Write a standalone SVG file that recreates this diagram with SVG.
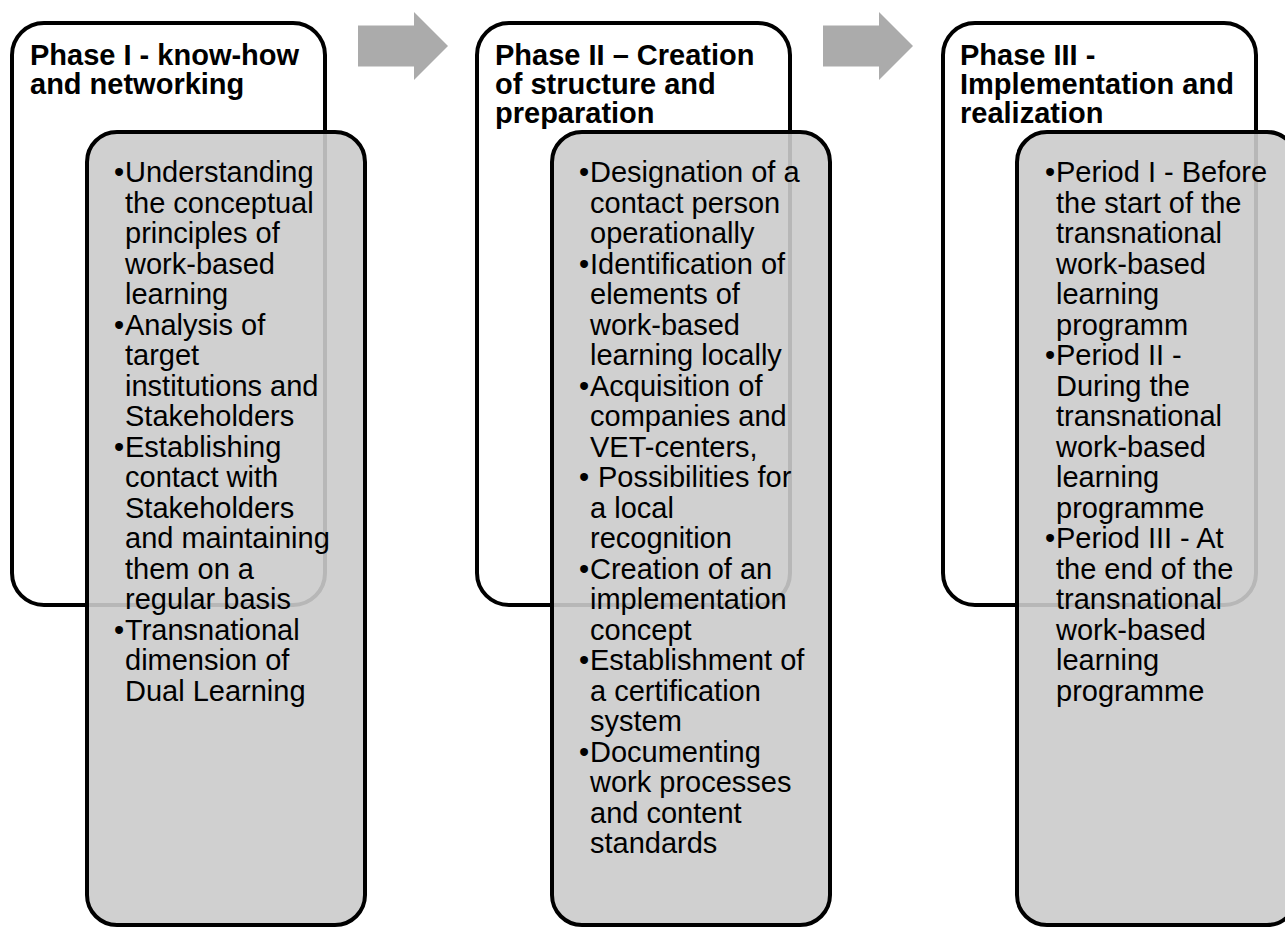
<svg xmlns="http://www.w3.org/2000/svg" width="1285" height="927" viewBox="0 0 1285 927">
<style>
.outer{fill:#ffffff;stroke:#000000;stroke-width:4}
.inner{fill:#cbcbcb;fill-opacity:0.9;stroke:#000000;stroke-width:4}
.arrow{fill:#ababab}
.title{font-family:"Liberation Sans",Arial,sans-serif;font-size:29px;font-weight:bold;fill:#000000}
.body{font-family:"Liberation Sans",Arial,sans-serif;font-size:29px;fill:#000000}
</style>
<rect width="1285" height="927" fill="#ffffff"/>
<g id="connectors">
<polygon class="arrow" points="358,25.5 414,25.5 414,12 448,46 414,80 414,66.5 358,66.5"/>
<polygon class="arrow" points="823,25.5 879,25.5 879,12 913,46 879,80 879,66.5 823,66.5"/>
</g>
<g id="phase1">
<rect class="outer" x="12" y="23" width="313" height="582" rx="32"/>
<rect class="inner" x="87" y="132" width="278" height="793" rx="30"/>
<text class="title"><tspan x="30" y="65">Phase I - know-how</tspan><tspan x="30" y="94">and networking</tspan></text>
<text class="body">
<tspan x="114" y="182">•</tspan><tspan x="125" y="182">Understanding</tspan>
<tspan x="125" y="212.5">the conceptual</tspan>
<tspan x="125" y="243">principles of</tspan>
<tspan x="125" y="273.5">work-based</tspan>
<tspan x="125" y="304">learning</tspan>
<tspan x="114" y="334.5">•</tspan><tspan x="125" y="334.5">Analysis of</tspan>
<tspan x="125" y="365">target</tspan>
<tspan x="125" y="395.5">institutions and</tspan>
<tspan x="125" y="426">Stakeholders</tspan>
<tspan x="114" y="456.5">•</tspan><tspan x="125" y="456.5">Establishing</tspan>
<tspan x="125" y="487">contact with</tspan>
<tspan x="125" y="517.5">Stakeholders</tspan>
<tspan x="125" y="548">and maintaining</tspan>
<tspan x="125" y="578.5">them on a</tspan>
<tspan x="125" y="609">regular basis</tspan>
<tspan x="114" y="639.5">•</tspan><tspan x="125" y="639.5">Transnational</tspan>
<tspan x="125" y="670">dimension of</tspan>
<tspan x="125" y="700.5">Dual Learning</tspan>
</text>
</g>
<g id="phase2">
<rect class="outer" x="477" y="23" width="313" height="582" rx="32"/>
<rect class="inner" x="552" y="132" width="278" height="793" rx="30"/>
<text class="title"><tspan x="495" y="65">Phase II – Creation</tspan><tspan x="495" y="94">of structure and</tspan><tspan x="495" y="123">preparation</tspan></text>
<text class="body">
<tspan x="579" y="182">•</tspan><tspan x="590" y="182">Designation of a</tspan>
<tspan x="590" y="212.5">contact person</tspan>
<tspan x="590" y="243">operationally</tspan>
<tspan x="579" y="273.5">•</tspan><tspan x="590" y="273.5">Identification of</tspan>
<tspan x="590" y="304">elements of</tspan>
<tspan x="590" y="334.5">work-based</tspan>
<tspan x="590" y="365">learning locally</tspan>
<tspan x="579" y="395.5">•</tspan><tspan x="590" y="395.5">Acquisition of</tspan>
<tspan x="590" y="426">companies and</tspan>
<tspan x="590" y="456.5">VET-centers,</tspan>
<tspan x="579" y="487">•</tspan><tspan x="598" y="487">Possibilities for</tspan>
<tspan x="590" y="517.5">a local</tspan>
<tspan x="590" y="548">recognition</tspan>
<tspan x="579" y="578.5">•</tspan><tspan x="590" y="578.5">Creation of an</tspan>
<tspan x="590" y="609">implementation</tspan>
<tspan x="590" y="639.5">concept</tspan>
<tspan x="579" y="670">•</tspan><tspan x="590" y="670">Establishment of</tspan>
<tspan x="590" y="700.5">a certification</tspan>
<tspan x="590" y="731">system</tspan>
<tspan x="579" y="761.5">•</tspan><tspan x="590" y="761.5">Documenting</tspan>
<tspan x="590" y="792">work processes</tspan>
<tspan x="590" y="822.5">and content</tspan>
<tspan x="590" y="853">standards</tspan>
</text>
</g>
<g id="phase3">
<rect class="outer" x="943" y="23" width="313" height="582" rx="32"/>
<rect class="inner" x="1017" y="132" width="280" height="793" rx="30"/>
<text class="title"><tspan x="960" y="65">Phase III -</tspan><tspan x="960" y="94">Implementation and</tspan><tspan x="960" y="123">realization</tspan></text>
<text class="body">
<tspan x="1045" y="182">•</tspan><tspan x="1056" y="182">Period I - Before</tspan>
<tspan x="1056" y="212.5">the start of the</tspan>
<tspan x="1056" y="243">transnational</tspan>
<tspan x="1056" y="273.5">work-based</tspan>
<tspan x="1056" y="304">learning</tspan>
<tspan x="1056" y="334.5">programm</tspan>
<tspan x="1045" y="365">•</tspan><tspan x="1056" y="365">Period II -</tspan>
<tspan x="1056" y="395.5">During the</tspan>
<tspan x="1056" y="426">transnational</tspan>
<tspan x="1056" y="456.5">work-based</tspan>
<tspan x="1056" y="487">learning</tspan>
<tspan x="1056" y="517.5">programme</tspan>
<tspan x="1045" y="548">•</tspan><tspan x="1056" y="548">Period III - At</tspan>
<tspan x="1056" y="578.5">the end of the</tspan>
<tspan x="1056" y="609">transnational</tspan>
<tspan x="1056" y="639.5">work-based</tspan>
<tspan x="1056" y="670">learning</tspan>
<tspan x="1056" y="700.5">programme</tspan>
</text>
</g>
</svg>
